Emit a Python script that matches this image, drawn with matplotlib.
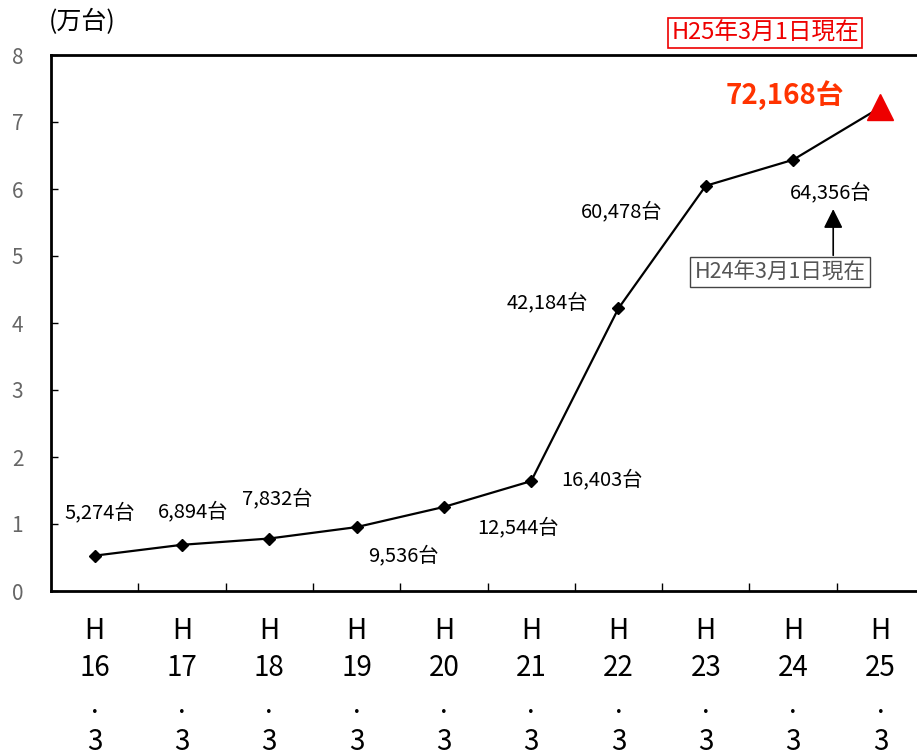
import numpy as np
import matplotlib.pyplot as plt

plt.rcParams['font.family'] = ['Noto Sans CJK JP', 'DejaVu Sans']

years = ["16", "17", "18", "19", "20", "21", "22", "23", "24", "25"]
counts = [5274, 6894, 7832, 9536, 12544, 16403, 42184, 60478, 64356, 72168]
labels = [f"{c:,}台" for c in counts]

# label offsets in pixels from each point (dx, dy)
offsets = [(5, 43), (11, 33), (8, 40), (47, -29), (74, -21),
           (71, 1), (-71, 6), (-84, -26), (38, -33), (-95, 12)]

vals = np.array(counts) / 10000
x = np.arange(len(counts))

fig = plt.figure(figsize=(9.17, 7.56), dpi=100)
ax = fig.add_axes([51 / 917, 165 / 756, 873 / 917, 536 / 756])

ax.plot(x, vals, color="black", lw=1.6, zorder=2)
ax.plot(x[:-1], vals[:-1], "D", color="black", ms=6.5, zorder=3)
ax.plot(x[-1], vals[-1], "^", color="#ee0000", ms=19, zorder=3)

for i, (lab, (dx, dy)) in enumerate(zip(labels, offsets)):
    if i == len(labels) - 1:
        ax.annotate(lab, (x[i], vals[i]), xytext=(dx, dy), textcoords="offset pixels",
                    ha="center", va="center", fontsize=20, fontweight="bold", color="#ff3300")
    else:
        ax.annotate(lab, (x[i], vals[i]), xytext=(dx, dy), textcoords="offset pixels",
                    ha="center", va="center", fontsize=14.5, color="black")

ax.set_xlim(-0.5, 9.5)
ax.set_ylim(0, 8)
ax.set_yticks(range(0, 9))
ax.tick_params(axis="y", direction="in", length=5, width=1, labelsize=15,
               labelcolor="#666666", pad=20)
ax.set_xticks(x + 0.5, minor=False)
ax.set_xticklabels([])
ax.tick_params(axis="x", direction="in", length=6, width=1)
for s in ["left", "bottom", "top", "right"]:
    ax.spines[s].set_linewidth(2)

for i, y in enumerate(years):
    ax.text(x[i], -0.38, f"H\n{y}\n.\n3", ha="center", va="top", fontsize=20,
            linespacing=1.3, color="black")

fig.text(82 / 917, 1 - 22 / 756, "(万台)", ha="center", va="center", fontsize=18)

fig.text(765 / 917, 1 - 33 / 756, "H25年3月1日現在", ha="center", va="center",
         fontsize=17, color="#ee0000",
         bbox=dict(boxstyle="square,pad=0.15", fc="white", ec="#ee0000", lw=1.2))

fig.text(780 / 917, 1 - 272 / 756, "H24年3月1日現在", ha="center", va="center",
         fontsize=15.5, color="#555555",
         bbox=dict(boxstyle="square,pad=0.2", fc="white", ec="#444444", lw=1))

ax.annotate("", xy=(x[8] + 0.46, 5.70), xytext=(x[8] + 0.46, 5.01),
            arrowprops=dict(arrowstyle="-|>", color="black", lw=1.2, mutation_scale=29,
                            shrinkA=0, shrinkB=0))

fig.savefig("out.png", dpi=100)
